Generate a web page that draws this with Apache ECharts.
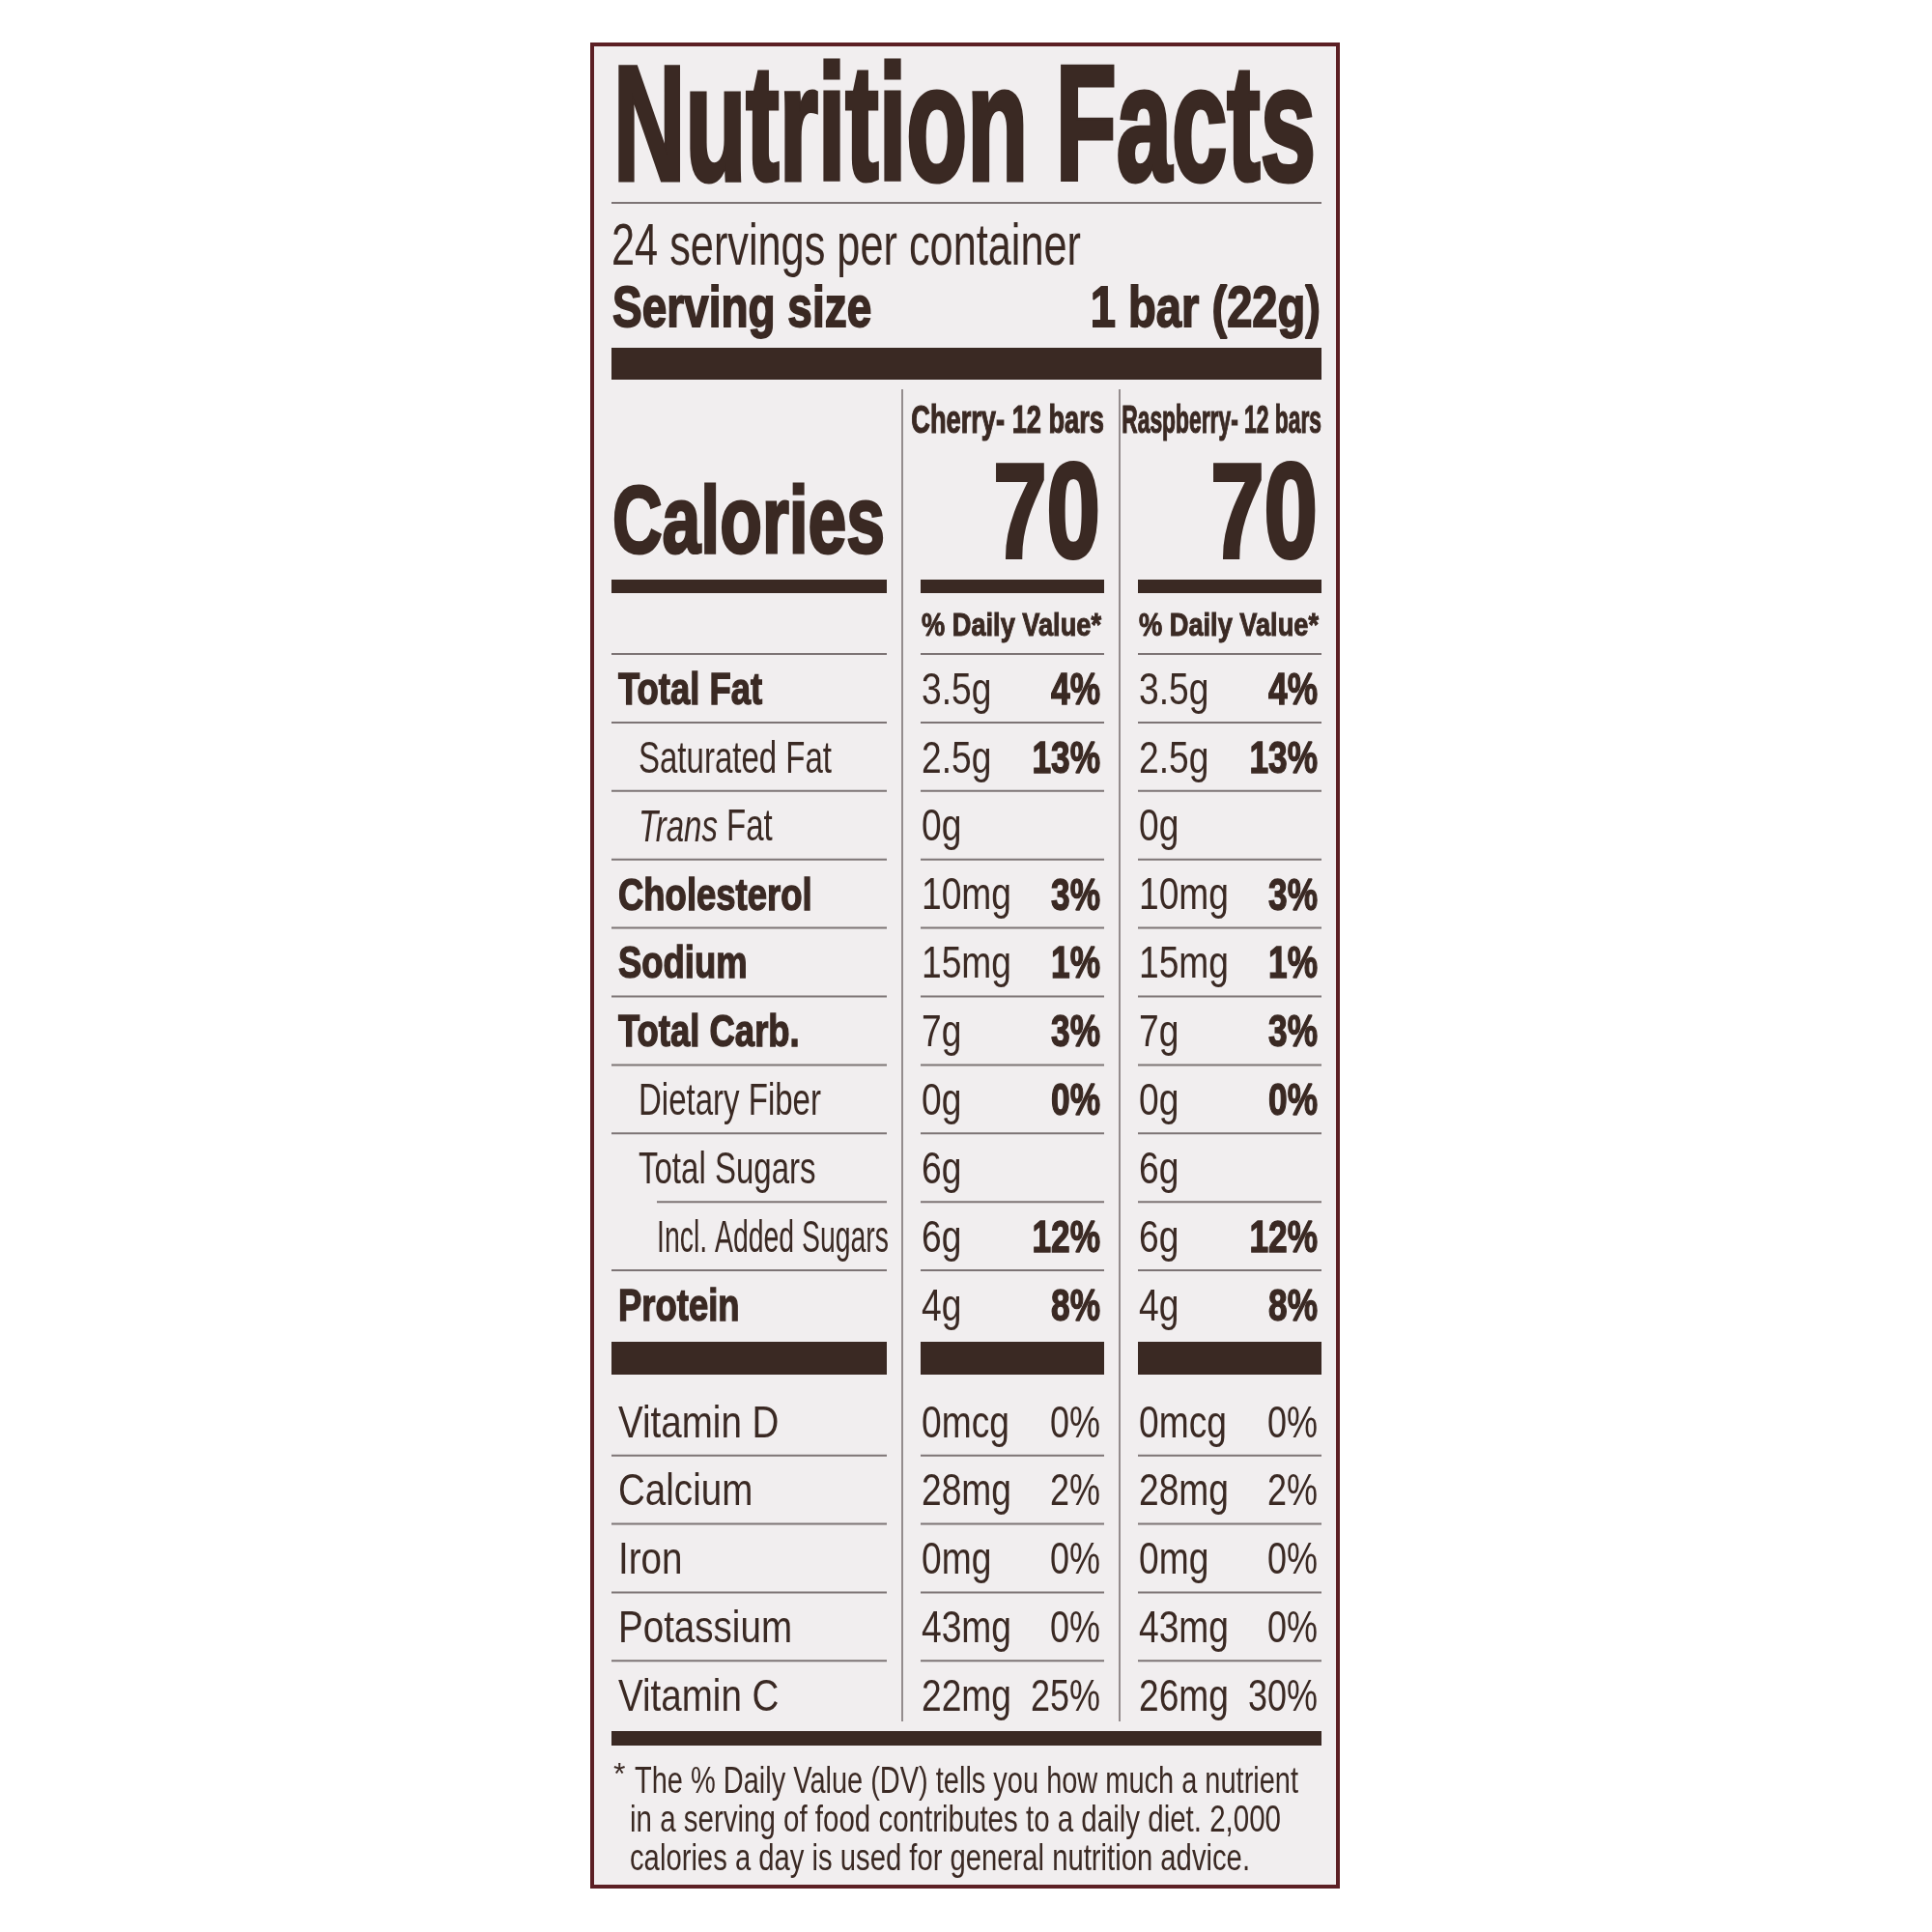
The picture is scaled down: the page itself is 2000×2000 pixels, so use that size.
<!DOCTYPE html>
<html>
<head>
<meta charset="utf-8">
<script src="https://cdn.jsdelivr.net/npm/echarts@6/dist/echarts.min.js"></script>
<style>
  html, body { margin: 0; padding: 0; background: #ffffff; }
  #label { width: 2000px; height: 2000px; }
</style>
</head>
<body>
<div id="label"></div>
<script>
// ---- label data ----
var servingsPerContainer = 24;
var servingSize = '1 bar (22g)';
var flavors = ['Cherry- 12 bars', 'Raspberry- 12 bars'];
var calories = [70, 70];

var nutrients = ['Total Fat', 'Saturated Fat', 'Trans Fat', 'Cholesterol', 'Sodium',
  'Total Carb.', 'Dietary Fiber', 'Total Sugars', 'Incl. Added Sugars', 'Protein'];
var cherryAmount = ['3.5g', '2.5g', '0g', '10mg', '15mg', '7g', '0g', '6g', '6g', '4g'];
var cherryDV = [4, 13, null, 3, 1, 3, 0, null, 12, 8];
var raspberryAmount = ['3.5g', '2.5g', '0g', '10mg', '15mg', '7g', '0g', '6g', '6g', '4g'];
var raspberryDV = [4, 13, null, 3, 1, 3, 0, null, 12, 8];

var vitamins = ['Vitamin D', 'Calcium', 'Iron', 'Potassium', 'Vitamin C'];
var cherryVitAmount = ['0mcg', '28mg', '0mg', '43mg', '22mg'];
var cherryVitDV = [0, 2, 0, 0, 25];
var raspberryVitAmount = ['0mcg', '28mg', '0mg', '43mg', '26mg'];
var raspberryVitDV = [0, 2, 0, 0, 30];

var footnote = [
  'The % Daily Value (DV) tells you how much a nutrient',
  'in a serving of food contributes to a daily diet. 2,000',
  'calories a day is used for general nutrition advice.'
];

// ---- look ----
var INK = '#3a2923';
var RULE = '#7d7475';
var PANEL = '#f1eeef';
var BORDER = '#5c1f24';
var FAMILY = '"Liberation Sans Narrow", "Liberation Sans", Arial, sans-serif';
var HEAVY = 0.03; // extra outline on bold type, per px of font size

// indent level of each nutrient row (0 bold, 1 sub, 2 sub-sub)
var nutrientLevel = [0, 1, 1, 0, 0, 0, 1, 1, 2, 0];

// layout, in page pixels
var L = 633, R = 1368;
var COL = {
  name: [640, 661, 680],
  amount: [954, 1179],
  dv: [1139, 1364],
  seg: [[633, 918], [953, 1143], [1178, 1368]],
  divider: [934, 1159]
};
var ROW_FONT = 47;

var mctx = document.createElement('canvas').getContext('2d');
function setFont(size, weight, style) {
  mctx.font = (style || 'normal') + ' ' + (weight || 'normal') + ' ' + size + 'px ' + FAMILY;
}
function measure(str, size, weight, style) {
  setFont(size, weight, style);
  return mctx.measureText(str).width;
}
function squeeze(str, size, weight, target) {
  var extra = weight === 'bold' ? size * HEAVY : 0;
  return (target - extra) / measure(str, size, weight);
}
// shift that puts the centre of the capitals on the anchor for 'middle' text
var capShift = {};
['normal', 'bold'].forEach(function (w) {
  setFont(100, w);
  mctx.textBaseline = 'alphabetic';
  var cap = mctx.measureText('H').actualBoundingBoxAscent;
  mctx.textBaseline = 'middle';
  var top = mctx.measureText('H').actualBoundingBoxAscent;
  capShift[w] = (top - cap / 2) / 100;
});

var SX = {
  nameBold: squeeze('Cholesterol', ROW_FONT, 'bold', 202),
  nameReg: squeeze('Saturated Fat', ROW_FONT, 'normal', 200),
  added: squeeze('Incl. Added Sugars', ROW_FONT, 'normal', 240),
  vitName: squeeze('Potassium', ROW_FONT, 'normal', 180),
  amount: squeeze('10mg', ROW_FONT, 'normal', 93),
  dvBold: squeeze('13%', ROW_FONT, 'bold', 72),
  dvReg: squeeze('0%', ROW_FONT, 'normal', 52)
};

function txt(str, x, y, size, weight, align, sx, rich) {
  var style = {
    text: str, fill: INK, fontSize: size, fontWeight: weight, fontFamily: FAMILY,
    align: align, verticalAlign: 'middle', textAlign: align, textVerticalAlign: 'middle'
  };
  if (weight === 'bold') {
    style.stroke = INK;
    style.lineWidth = size * HEAVY;
  }
  if (rich) style.rich = rich;
  return { type: 'text', x: x, y: y + capShift[weight] * size, scaleX: sx, originX: 0, originY: 0,
    style: style, silent: true };
}
function rule(x1, x2, y, w, color) {
  return { type: 'line', shape: { x1: x1, y1: y, x2: x2, y2: y },
    style: { stroke: color || RULE, lineWidth: w || 2 }, silent: true };
}
function bar(x1, x2, y1, y2) {
  return { type: 'rect', shape: { x: x1, y: y1, width: x2 - x1, height: y2 - y1 },
    style: { fill: INK }, silent: true };
}
function pct(v) { return v == null ? '' : v + '%'; }

// ---- fixed parts of the label ----
var g = [];
g.push({ type: 'rect', z: -10, shape: { x: 613, y: 46, width: 772, height: 1907 },
  style: { fill: PANEL, stroke: BORDER, lineWidth: 4 }, silent: true });

g.push(txt('Nutrition Facts', L + 2, 127, 168, 'bold', 'left',
  squeeze('Nutrition Facts', 168, 'bold', 732)));
g.push(rule(L, R, 210, 2));
var spc = servingsPerContainer + ' servings per container';
g.push(txt(spc, L, 253, 61, 'normal', 'left', squeeze(spc, 61, 'normal', 486)));
g.push(txt('Serving size', L + 1, 317, 60, 'bold', 'left', squeeze('Serving size', 60, 'bold', 270)));
g.push(txt(servingSize, R - 1, 317, 60, 'bold', 'right', squeeze(servingSize, 60, 'bold', 240)));
g.push(bar(L, R, 360, 393));

g.push(txt('Calories', L + 1, 538, 98, 'bold', 'left', squeeze('Calories', 98, 'bold', 285)));
flavors.forEach(function (f, k) {
  var right = COL.seg[k + 1][1];
  g.push(txt(f, right, 434, 41, 'bold', 'right', squeeze(f, 41, 'bold', k ? 208 : 201)));
  var c = String(calories[k]);
  g.push(txt(c, right - 4, 528, 140, 'bold', 'right', squeeze(c, 140, 'bold', 115)));
  g.push(txt('% Daily Value*', right - 3, 646, 34, 'bold', 'right',
    squeeze('% Daily Value*', 34, 'bold', 187)));
});
COL.seg.forEach(function (s) {
  g.push(bar(s[0], s[1], 600, 614));
  g.push(rule(s[0], s[1], 677, 2));
  g.push(bar(s[0], s[1], 1389, 1423));
});
COL.divider.forEach(function (x) {
  g.push({ type: 'line', shape: { x1: x, y1: 403, x2: x, y2: 1782 },
    style: { stroke: RULE, lineWidth: 1.6 }, silent: true });
});
g.push(bar(L, R, 1792, 1807));

g.push(txt('*', 635, 1836, 32, 'normal', 'left', 1));
var footX = [657, 652, 652], footW = [687, 674, 642];
footnote.forEach(function (line, k) {
  g.push(txt(line, footX[k], 1843 + k * 40, 38, 'normal', 'left',
    squeeze(line, 38, 'normal', footW[k])));
});

// ---- table rows through the grid axes ----
function renderRows(names, amounts, dvs, isVitamin) {
  return function (params, api) {
    var i = params.dataIndex;
    var cy = api.coord([L, i])[1];
    var rowH = api.size([0, 1])[1];
    var px = function (v) { return api.coord([v, i])[0]; };
    var level = isVitamin ? 0 : nutrientLevel[i];
    var kids = [];
    var name = names[i];
    if (isVitamin) {
      kids.push(txt(name, px(COL.name[0]), cy, ROW_FONT, 'normal', 'left', SX.vitName));
    } else if (level === 0) {
      kids.push(txt(name, px(COL.name[0]), cy, ROW_FONT, 'bold', 'left', SX.nameBold));
    } else if (name.indexOf('Trans ') === 0) {
      kids.push(txt('{it|Trans} ' + name.slice(6), px(COL.name[level]), cy, ROW_FONT, 'normal', 'left',
        SX.nameReg, { it: { fontStyle: 'italic', fontSize: ROW_FONT, fontFamily: FAMILY, fill: INK } }));
    } else {
      kids.push(txt(name, px(COL.name[level]), cy, ROW_FONT, 'normal', 'left',
        level === 2 ? SX.added : SX.nameReg));
    }
    for (var k = 0; k < 2; k++) {
      kids.push(txt(amounts[k][i], px(COL.amount[k]), cy, ROW_FONT, 'normal', 'left', SX.amount));
      kids.push(txt(pct(dvs[k][i]), px(COL.dv[k]), cy, ROW_FONT,
        isVitamin ? 'normal' : 'bold', 'right', isVitamin ? SX.dvReg : SX.dvBold));
    }
    if (i < names.length - 1) {
      var y = cy + rowH / 2;
      var nextLevel = isVitamin ? 0 : nutrientLevel[i + 1];
      COL.seg.forEach(function (s, k) {
        var x1 = (k === 0 && nextLevel === 2) ? COL.name[2] : s[0];
        kids.push(rule(px(x1), px(s[1]), y, 2));
      });
    }
    return { type: 'group', children: kids };
  };
}

var chart = echarts.init(document.getElementById('label'), null, { renderer: 'canvas' });
chart.setOption({
  backgroundColor: '#ffffff',
  animation: false,
  grid: [
    { left: L, top: 677, width: R - L, height: 709 },
    { left: L, top: 1436, width: R - L, height: 354 }
  ],
  xAxis: [
    { type: 'value', gridIndex: 0, min: L, max: R, show: false },
    { type: 'value', gridIndex: 1, min: L, max: R, show: false }
  ],
  yAxis: [
    { type: 'category', gridIndex: 0, data: nutrients, inverse: true, show: false },
    { type: 'category', gridIndex: 1, data: vitamins, inverse: true, show: false }
  ],
  graphic: { elements: g },
  series: [
    {
      type: 'custom', name: 'Nutrients', xAxisIndex: 0, yAxisIndex: 0,
      encode: { x: 0, y: 1 },
      data: nutrients.map(function (n, i) { return [L, i]; }),
      renderItem: renderRows(nutrients, [cherryAmount, raspberryAmount], [cherryDV, raspberryDV], false)
    },
    {
      type: 'custom', name: 'Vitamins & minerals', xAxisIndex: 1, yAxisIndex: 1,
      encode: { x: 0, y: 1 },
      data: vitamins.map(function (n, i) { return [L, i]; }),
      renderItem: renderRows(vitamins, [cherryVitAmount, raspberryVitAmount], [cherryVitDV, raspberryVitDV], true)
    }
  ]
});
</script>
</body>
</html>
